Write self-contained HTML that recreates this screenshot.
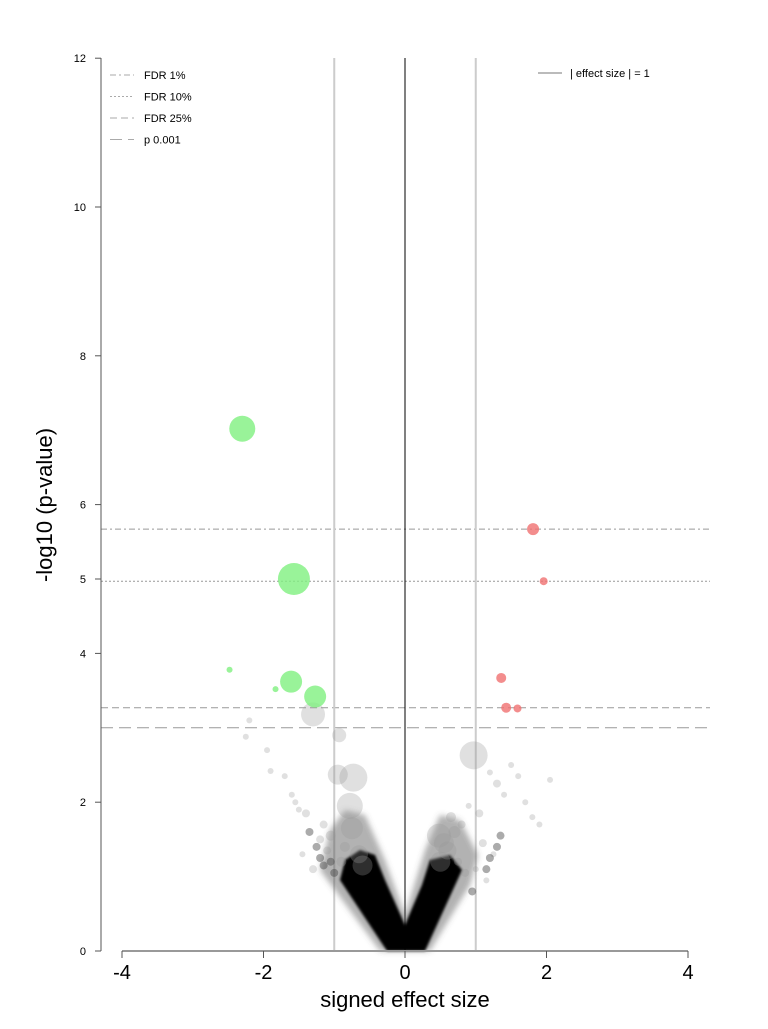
<!DOCTYPE html>
<html><head><meta charset="utf-8"><style>
body{margin:0;background:#fff;font-family:"Liberation Sans",sans-serif}
</style></head><body>
<svg id="chart" width="768" height="1024" xmlns="http://www.w3.org/2000/svg" font-family="Liberation Sans, sans-serif">
<defs><filter id="blur" x="-20%" y="-20%" width="140%" height="140%"><feGaussianBlur stdDeviation="3"/></filter>
<filter id="blur1" x="-20%" y="-20%" width="140%" height="140%"><feGaussianBlur stdDeviation="1.2"/></filter></defs>
<g id="grid"></g><g id="cloud"></g><g id="pts"></g><g id="axes"></g>
</svg>
<script>
const xTicks=[-4,-2,0,2,4];
const yTicks=[0,2,4,5,6,8,10,12];
const thresholds=[5.67,4.97,3.27,3.0];
const thresholdNames=["FDR 1%","FDR 10%","FDR 25%","p 0.001"];
const greenX=[-2.30,-1.57,-1.61,-1.27,-2.48,-1.83];
const greenY=[7.02,5.00,3.62,3.42,3.78,3.52];
const greenS=[13,16,11,11,3,3];
const redX=[1.81,1.96,1.36,1.43,1.59];
const redY=[5.67,4.97,3.67,3.27,3.26];
const redS=[6,4,5,5,4];
const greyX=[-1.3,-0.93,-0.73,-0.95,-0.78,-0.75,-1.05,-1.15,-1.4,-1.55,-2.2,-2.25,-1.95,-1.9,-1.7,-1.6,-1.5,-1.2,-1.1,-0.9,-0.85,-1.3,-1.45,0.97,0.48,0.55,0.6,0.7,0.65,0.8,0.9,1.05,1.2,1.3,1.4,1.5,1.6,1.7,1.8,1.9,2.05,1.1,1.25,0.75,0.85,1.0,1.15,-0.6,-0.65,0.5,-1.25,-1.2,-1.15,-1.35,-1.0,-1.05,1.3,1.35,1.15,1.2,0.95];
const greyY=[3.18,2.9,2.33,2.37,1.95,1.65,1.55,1.7,1.85,2.0,3.1,2.88,2.7,2.42,2.35,2.1,1.9,1.5,1.35,1.2,1.4,1.1,1.3,2.63,1.55,1.45,1.35,1.6,1.8,1.7,1.95,1.85,2.4,2.25,2.1,2.5,2.35,2.0,1.8,1.7,2.3,1.45,1.3,1.2,1.05,1.1,0.95,1.15,1.3,1.2,1.4,1.25,1.15,1.6,1.05,1.2,1.4,1.55,1.1,1.25,0.8];
const greyS=[12,7,14,10,13,11,5,4,4,3,3,3,3,3,3,3,3,4,4,5,5,4,3,14,12,10,9,6,5,4,3,4,3,4,3,3,3,3,3,3,3,4,3,4,4,3,3,10,9,10,4,4,4,4,4,4,4,4,4,4,4];
const coreShape=[[-0.254,0],[-0.919,0.954],[-0.848,1.223],[-0.636,1.358],[-0.424,1.29],[-0.283,0.954],[0,0.349],[0.24,0.887],[0.353,1.223],[0.636,1.29],[0.806,1.089],[0.283,0]];
const haloShape=[[-0.353,0],[-1.201,1.089],[-1.06,1.626],[-0.848,1.895],[-0.565,1.828],[-0.283,1.223],[0,0.484],[0.283,1.358],[0.495,1.828],[0.777,1.761],[1.032,1.29],[0.919,0.887],[0.353,0]];
const sx=v=>405+v*70.75, sy=v=>951-v*74.4;
const NS="http://www.w3.org/2000/svg";
function mk(p,t,a){const e=document.createElementNS(NS,t);for(const k in a)e.setAttribute(k,a[k]);p.appendChild(e);return e;}
const G=document.getElementById('grid'),C=document.getElementById('cloud'),P=document.getElementById('pts'),A=document.getElementById('axes');
const dashes=["6,3,2,3","2,2","7,4","12,6"];
thresholds.forEach((t,i)=>{const l=mk(G,'line',{x1:101,x2:710,y1:sy(t),y2:sy(t),stroke:'#999','stroke-dasharray':dashes[i]});

});
[-1,1].forEach(v=>{const l=mk(G,'line',{x1:sx(v),x2:sx(v),y1:58,y2:951,stroke:'#ccc','stroke-width':2});

});
const halo=mk(C,'polygon',{points:haloShape.map(p=>sx(p[0])+','+sy(p[1])).join(' '),fill:'#555','fill-opacity':0.45,filter:'url(#blur)'});


const poly=mk(C,'polygon',{points:coreShape.map(p=>sx(p[0])+','+sy(p[1])).join(' '),fill:'#000',filter:'url(#blur1)'});


greyX.forEach((x,i)=>{const small=greyS[i]<=5&&i>=50;const c=mk(P,'circle',{cx:sx(x),cy:sy(greyY[i]),r:greyS[i],fill:small?'#444':'#999','fill-opacity':small?0.45:0.3});

});
const zl=mk(G,'line',{x1:405,x2:405,y1:58,y2:958,stroke:'#000','stroke-width':1});


greenX.forEach((x,i)=>{const c=mk(P,'circle',{cx:sx(x),cy:sy(greenY[i]),r:greenS[i],fill:'#7ff07f','fill-opacity':0.8});

});
redX.forEach((x,i)=>{const c=mk(P,'circle',{cx:sx(x),cy:sy(redY[i]),r:redS[i],fill:'#f07070','fill-opacity':0.8});

});
const ya=mk(A,'line',{x1:101,x2:101,y1:58,y2:951,stroke:'#555'});


yTicks.forEach(t=>{const l=mk(A,'line',{x1:95,x2:101,y1:sy(t),y2:sy(t),stroke:'#555'});


const tx=mk(A,'text',{x:86,y:sy(t)+4,'text-anchor':'end','font-size':11});tx.textContent=t;

});
const xa=mk(A,'line',{x1:122,x2:688,y1:951,y2:951,stroke:'#999','stroke-width':2});


xTicks.forEach(t=>{const l=mk(A,'line',{x1:sx(t),x2:sx(t),y1:951,y2:958,stroke:'#555'});


const tx=mk(A,'text',{x:sx(t),y:979,'text-anchor':'middle','font-size':20});tx.textContent=t;

});
const xt=mk(A,'text',{x:405,y:1007,'text-anchor':'middle','font-size':22});xt.textContent='signed effect size';


const yt=mk(A,'text',{x:52,y:505,'text-anchor':'middle','font-size':22,transform:'rotate(-90 52 505)'});yt.textContent='-log10 (p-value)';


thresholdNames.forEach((n,i)=>{const y=75+i*21.5;
const l=mk(A,'line',{x1:110,x2:134,y1:y,y2:y,stroke:'#aaa','stroke-dasharray':dashes[i]});


const tx=mk(A,'text',{x:144,y:y+4,'font-size':11});tx.textContent=n;

});
const ll=mk(A,'line',{x1:538,x2:562,y1:73,y2:73,stroke:'#bbb','stroke-width':2});


const lt=mk(A,'text',{x:570,y:77,'font-size':11});lt.textContent='| effect size | = 1';


</script>
</body></html>
